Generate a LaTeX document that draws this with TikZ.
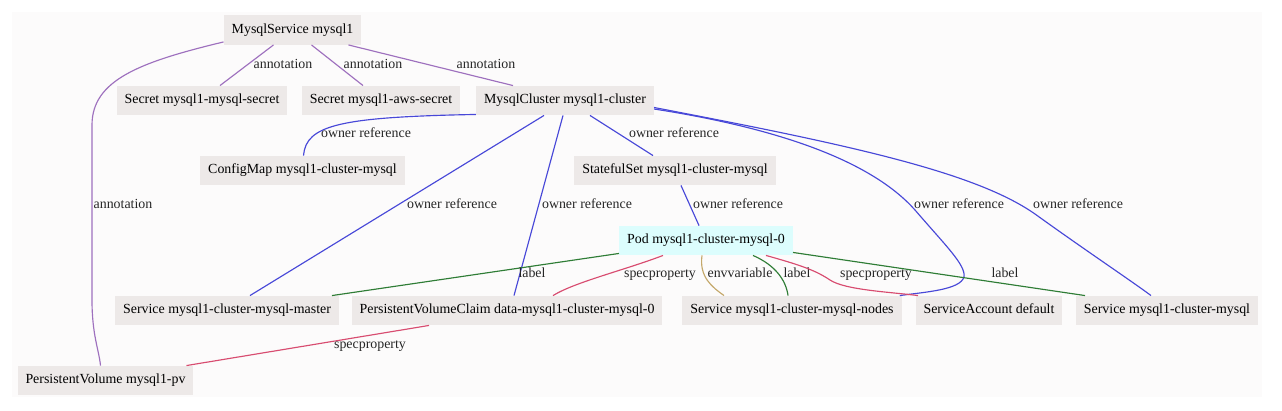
\documentclass[tikz,border=0pt]{standalone}
\usepackage{fontspec}
\setmainfont{Liberation Serif}
\definecolor{bgc}{HTML}{FCFBFB}
\definecolor{nodefill}{HTML}{EDE9E8}
\definecolor{podfill}{HTML}{DCFDFD}
\definecolor{annc}{HTML}{9E70BE}
\definecolor{ownc}{HTML}{4848D8}
\definecolor{labc}{HTML}{2F7D36}
\definecolor{specc}{HTML}{D84C70}
\definecolor{envc}{HTML}{C4A86A}
\tikzset{
  res/.style={fill=nodefill, draw=none, minimum height=29.5pt, inner xsep=8pt, inner ysep=0pt,
    font=\fontsize{13.9}{16}\selectfont, text height=9.5pt, text depth=3pt},
  podres/.style={res, fill=podfill},
  lbl/.style={inner sep=0pt, font=\fontsize{13.9}{16}\selectfont, text height=9.5pt, text depth=3pt, text=black!85},
  edge/.style={line width=1.15pt},
  ann/.style={edge, draw=annc},
  own/.style={edge, draw=ownc},
  lab/.style={edge, draw=labc},
  spec/.style={edge, draw=specc},
  env/.style={edge, draw=envc}
}
\begin{document}
\begin{tikzpicture}[x=1pt,y=-1pt]
\useasboundingbox (0,0) rectangle (1282,410);
\fill[bgc] (12,12) rectangle (1262,397);

% nodes
\node[res] (ms) at (292.5,30) {MysqlService mysql1};
\node[res] (sec1) at (202,100.5) {Secret mysql1-mysql-secret};
\node[res] (sec2) at (381,100.5) {Secret mysql1-aws-secret};
\node[res] (mc) at (565,100.5) {MysqlCluster mysql1-cluster};
\node[res] (cm) at (302.5,170.5) {ConfigMap mysql1-cluster-mysql};
\node[res] (ss) at (675,170.5) {StatefulSet mysql1-cluster-mysql};
\node[podres] (pod) at (706,240.5) {Pod mysql1-cluster-mysql-0};
\node[res] (svcm) at (227,310.5) {Service mysql1-cluster-mysql-master};
\node[res] (pvc) at (507,310.5) {PersistentVolumeClaim data-mysql1-cluster-mysql-0};
\node[res] (svcn) at (792,310.5) {Service mysql1-cluster-mysql-nodes};
\node[res] (sa) at (989,310.5) {ServiceAccount default};
\node[res] (svc) at (1167,310.5) {Service mysql1-cluster-mysql};
\node[res] (pv) at (105.5,380.5) {PersistentVolume mysql1-pv};

% annotation edges
\draw[ann] ([xshift=-19pt]ms.south) -- ([xshift=18pt]sec1.north)
  node[lbl] at (283,65) {annotation};
\draw[ann] ([xshift=19pt]ms.south) -- ([xshift=-18pt]sec2.north)
  node[lbl] at (373,65) {annotation};
\draw[ann] ([xshift=56pt]ms.south) -- ([xshift=-52pt]mc.north)
  node[lbl] at (486,65) {annotation};
\draw[ann] ([yshift=3pt]ms.south west) .. controls (140,62) and (92,80) .. (92,125)
  -- (92,300) .. controls (92,335) and (99,350) .. ([xshift=-5pt]pv.north)
  node[lbl] at (123,205) {annotation};

% owner reference edges
\draw[own] ([yshift=1pt]mc.south west) .. controls (340,117) and (306,125) .. ([xshift=1pt]cm.north)
  node[lbl] at (366,134) {owner reference};
\draw[own] ([xshift=25pt]mc.south) -- ([xshift=-22pt]ss.north)
  node[lbl] at (674,134) {owner reference};
\draw[own] ([xshift=-21pt]mc.south) -- ([xshift=23pt]svcm.north)
  node[lbl] at (452,205) {owner reference};
\draw[own] ([xshift=-2pt]mc.south) -- ([xshift=7pt]pvc.north)
  node[lbl] at (587,205) {owner reference};
\draw[own] ([xshift=6pt]ss.south) -- ([xshift=-7pt]pod.north)
  node[lbl] at (738,205) {owner reference};
\draw[own] ([yshift=-8.5pt]mc.east) .. controls (790,130) and (875,165) .. (915,210)
  .. controls (945,245) and (966,265) .. (964,277)
  .. controls (960,290) and (925,292) .. ([xshift=-2pt]svcn.north east)
  node[lbl] at (959,205) {owner reference};
\draw[own] ([yshift=-7pt]mc.east) .. controls (850,145) and (975,172) .. (1035,214)
  .. controls (1085,250) and (1130,280) .. ([xshift=-16pt]svc.north)
  node[lbl] at (1078,205) {owner reference};

% pod edges
\draw[lab] ([yshift=2pt]pod.south west) -- ([xshift=105pt]svcm.north)
  node[lbl] at (532,274) {label};
\draw[spec] ([xshift=-43pt]pod.south) .. controls (625,270) and (575,282) .. ([xshift=46pt]pvc.north)
  node[lbl] at (660,274) {specproperty};
\draw[env] ([xshift=-4pt]pod.south) .. controls (699,277) and (712,287) .. ([xshift=-68pt]svcn.north)
  node[lbl] at (740,274) {envvariable};
\draw[lab] ([xshift=47pt]pod.south) .. controls (775,265) and (786,280) .. ([xshift=-4pt]svcn.north)
  node[lbl] at (797,274) {label};
\draw[spec] ([xshift=60pt]pod.south) .. controls (800,265) and (815,270) .. (830,280)
  .. controls (845,290) and (890,292) .. ([xshift=-71pt]sa.north)
  node[lbl] at (876,274) {specproperty};
\draw[lab] ([yshift=3pt]pod.south east) -- ([xshift=-82pt]svc.north)
  node[lbl] at (1005,274) {label};

% pvc -> pv
\draw[spec] ([xshift=-78pt]pvc.south) -- ([xshift=81pt]pv.north)
  node[lbl] at (370,345) {specproperty};
\end{tikzpicture}
\end{document}
